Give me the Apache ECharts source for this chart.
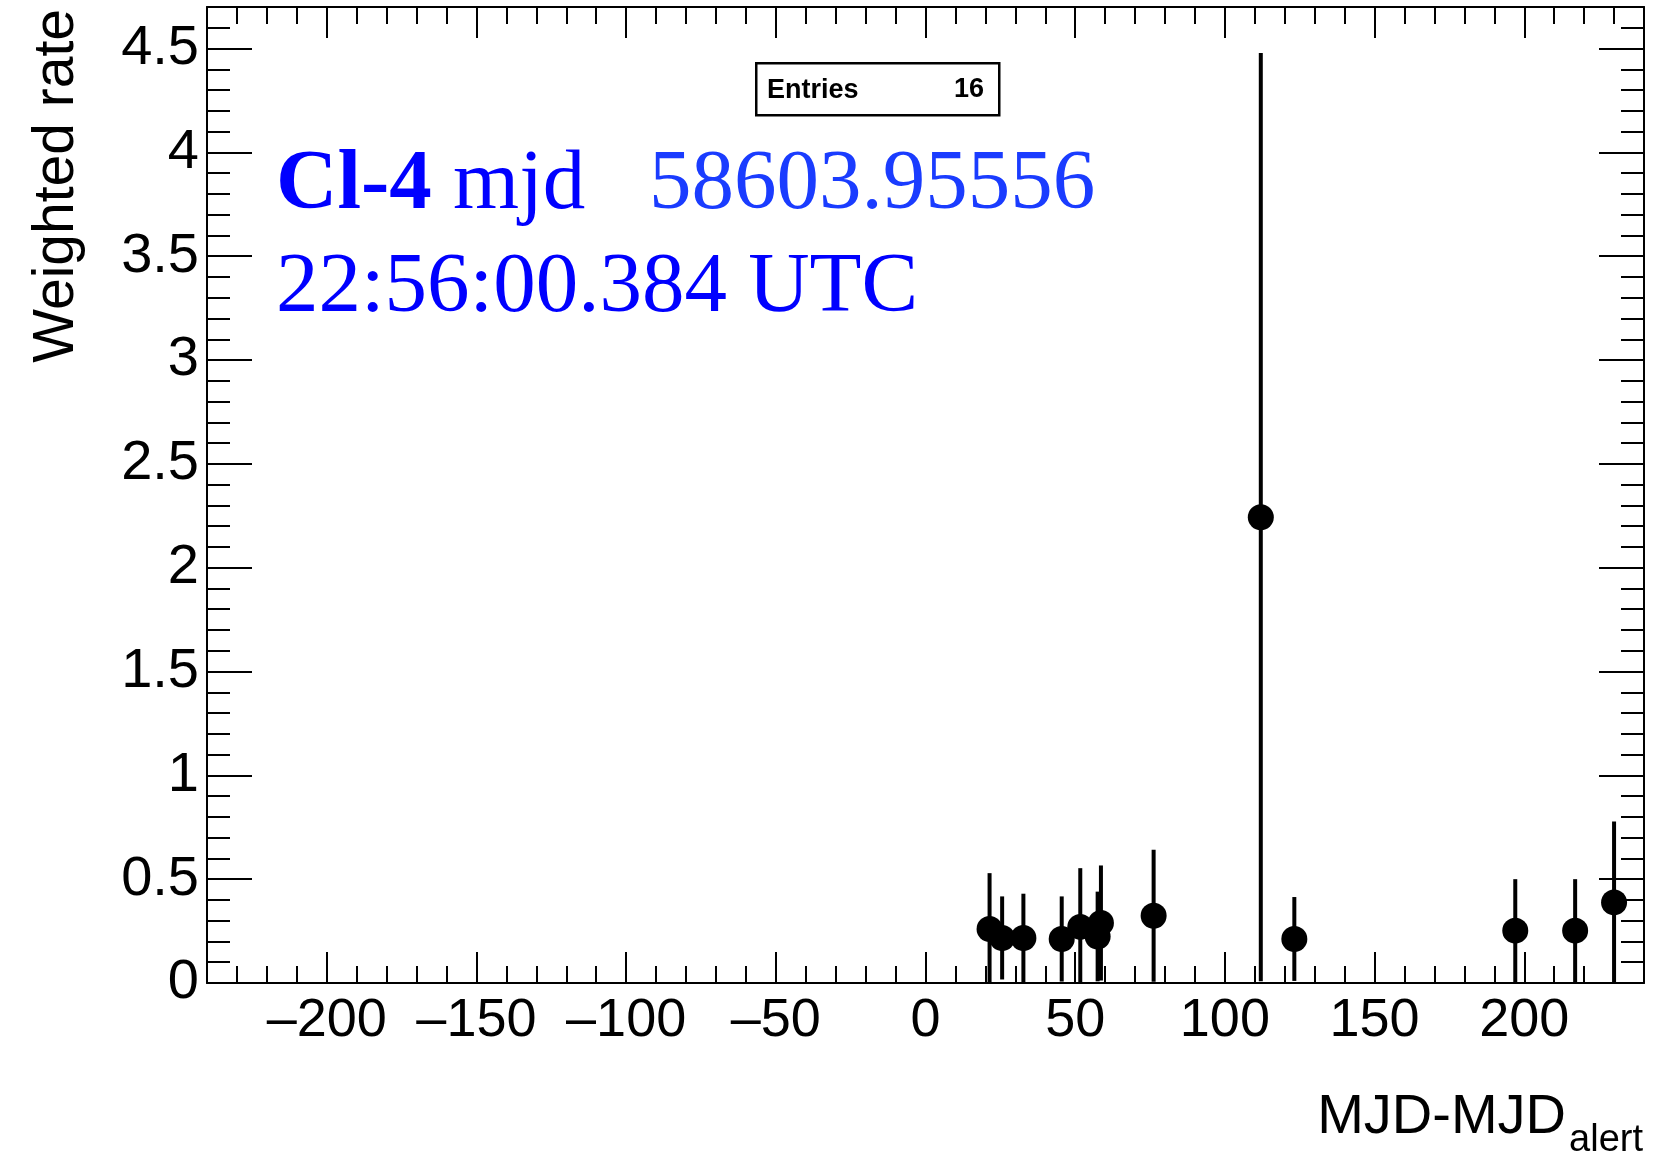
<!DOCTYPE html>
<html>
<head>
<meta charset="utf-8">
<script src="https://cdn.jsdelivr.net/npm/echarts@6/dist/echarts.min.js"></script>
<style>
  html, body { margin: 0; padding: 0; background: #fff; }
  #chart { width: 1675px; height: 1167px; }
</style>
</head>
<body>
<div id="chart"></div>
<script>
// Time offsets from the alert (days) of each filled bin
const mjdOffset = [21.4, 25.6, 32.7, 45.5, 51.7, 57.5, 58.6, 76.2, 112.0, 123.2, 197.0, 217.0, 230.0];
// Weighted rate in each bin
const weightedRate = [0.260, 0.217, 0.217, 0.212, 0.270, 0.224, 0.289, 0.324, 2.243, 0.212, 0.252, 0.252, 0.388];
// Symmetric error on the weighted rate
const rateError = [0.269, 0.200, 0.213, 0.205, 0.283, 0.216, 0.277, 0.318, 2.235, 0.202, 0.248, 0.248, 0.390];

const xRange = [-240, 240];
const yRange = [0, 4.7];
const entries = 16;

const SANS = "'Liberation Sans', Arial, Helvetica, sans-serif";
const SERIF = "'Liberation Serif', 'Times New Roman', serif";

const points = mjdOffset.map((x, i) => [x, weightedRate[i], rateError[i]]);

const chart = echarts.init(document.getElementById('chart'), null, { renderer: 'canvas' });

const lineStyle = { color: '#000', width: 2 };

function xAxisDef(position, showLabels) {
  return {
    type: 'value', position: position,
    min: xRange[0], max: xRange[1], splitNumber: 10,
    axisLine: { show: true, onZero: false, lineStyle: lineStyle },
    axisTick: { show: true, inside: true, length: 31, lineStyle: lineStyle },
    minorTick: { show: true, splitNumber: 5, length: 17, lineStyle: lineStyle },
    splitLine: { show: false },
    axisLabel: {
      show: showLabels, showMinLabel: false, showMaxLabel: false,
      margin: 11, color: '#000', fontFamily: SANS, fontSize: 54,
      formatter: v => (v % 50 === 0 ? String(v).replace('-', '\u2013') : '')
    }
  };
}

function yAxisDef(position, showLabels) {
  return {
    type: 'value', position: position,
    min: yRange[0], max: yRange[1], interval: 0.5,
    axisLine: { show: true, onZero: false, lineStyle: lineStyle },
    axisTick: { show: true, inside: true, length: 45, lineStyle: lineStyle },
    minorTick: { show: true, splitNumber: 5, length: 23, lineStyle: lineStyle },
    splitLine: { show: false },
    axisLabel: {
      show: showLabels, showMaxLabel: false,
      margin: 8, color: '#000', fontFamily: SANS, fontSize: 56
    }
  };
}

chart.setOption({
  animation: false,
  backgroundColor: '#fff',
  grid: { left: 207, right: 31, top: 7, bottom: 184, containLabel: false },
  xAxis: [xAxisDef('bottom', true), xAxisDef('top', false)],
  yAxis: [yAxisDef('left', true), yAxisDef('right', false)],
  series: [
    {
      // vertical error bars, clipped at the bottom of the frame
      type: 'custom',
      xAxisIndex: 0, yAxisIndex: 0,
      data: points,
      renderItem: function (params, api) {
        const x = api.value(0), y = api.value(1), e = api.value(2);
        const lo = api.coord([x, Math.max(yRange[0], y - e)]);
        const hi = api.coord([x, Math.min(yRange[1], y + e)]);
        return {
          type: 'line',
          shape: { x1: lo[0], y1: lo[1], x2: hi[0], y2: hi[1] },
          style: { stroke: '#000', lineWidth: 4 }
        };
      },
      z: 3
    },
    {
      type: 'scatter',
      xAxisIndex: 0, yAxisIndex: 0,
      data: points.map(p => [p[0], p[1]]),
      symbol: 'circle', symbolSize: 26,
      itemStyle: { color: '#000', opacity: 1 },
      z: 4
    }
  ],
  graphic: [
    // statistics box
    {
      type: 'rect', left: 755, top: 62, z: 10,
      shape: { width: 243, height: 52 },
      style: { fill: '#fff', stroke: '#000', lineWidth: 2.5 }
    },
    {
      type: 'text', x: 767, y: 91, z: 11,
      style: { text: 'Entries', fill: '#000', font: "bold 27px " + SANS, textAlign: 'left', textVerticalAlign: 'middle' }
    },
    {
      type: 'text', x: 984, y: 90, z: 11,
      style: { text: String(entries), fill: '#000', font: "bold 27px " + SANS, textAlign: 'right', textVerticalAlign: 'middle' }
    },
    // event annotation
    {
      type: 'text', x: 276, y: 186, z: 11,
      style: {
        text: '{b|Cl-4}{r| mjd   }{n|58603.95556}',
        textVerticalAlign: 'middle',
        rich: {
          b: { fontFamily: SERIF, fontSize: 85, fontWeight: 'bold', fill: '#0000ff', color: '#0000ff' },
          r: { fontFamily: SERIF, fontSize: 85, fill: '#0000ff', color: '#0000ff' },
          n: { fontFamily: SERIF, fontSize: 85, fill: '#1a3cff', color: '#1a3cff' }
        }
      }
    },
    {
      type: 'text', x: 276, y: 289, z: 11,
      style: { text: '22:56:00.384 UTC', fill: '#0000ff', font: "85px " + SERIF, textVerticalAlign: 'middle' }
    },
    // axis titles
    {
      type: 'text', x: 57, y: 9, rotation: Math.PI / 2, z: 11,
      style: { text: 'Weighted rate', fill: '#000', font: "57px " + SANS, textAlign: 'right', textVerticalAlign: 'middle' }
    },
    {
      type: 'text', x: 1566, y: 1118, z: 11,
      style: { text: 'MJD-MJD', fill: '#000', font: "56px " + SANS, textAlign: 'right', textVerticalAlign: 'middle' }
    },
    {
      type: 'text', x: 1643, y: 1141, z: 11,
      style: { text: 'alert', fill: '#000', font: "38px " + SANS, textAlign: 'right', textVerticalAlign: 'middle' }
    }
  ]
});
</script>
</body>
</html>
